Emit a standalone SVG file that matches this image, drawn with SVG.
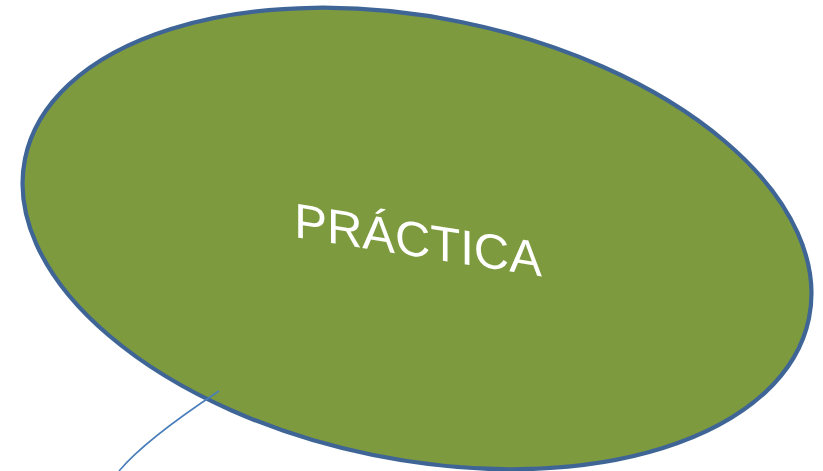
<svg xmlns="http://www.w3.org/2000/svg" width="823" height="471" viewBox="0 0 823 471">
  <style>
    .node-shape { fill: #7D9A3F; stroke: #3F6597; stroke-width: 4.2; }
    .label { font-family: "Liberation Sans", Arial, sans-serif; font-size: 49px; fill: #FFFFFF; }
    .connector { fill: none; stroke: #4A7EBB; stroke-width: 1.6; }
  </style>
  <rect width="823" height="471" fill="#FFFFFF"/>
  <g id="node-practica">
    <ellipse class="node-shape" cx="417" cy="238.5" rx="400" ry="221" transform="rotate(11.5 417 238.5)"/>
    <g transform="translate(294.2 237.1) skewY(9)">
      <text class="label" x="0" y="0">PRÁCTICA</text>
    </g>
  </g>
  <g id="connectors">
    <path class="connector" d="M219 391 Q145 440 119 471"/>
  </g>
</svg>
